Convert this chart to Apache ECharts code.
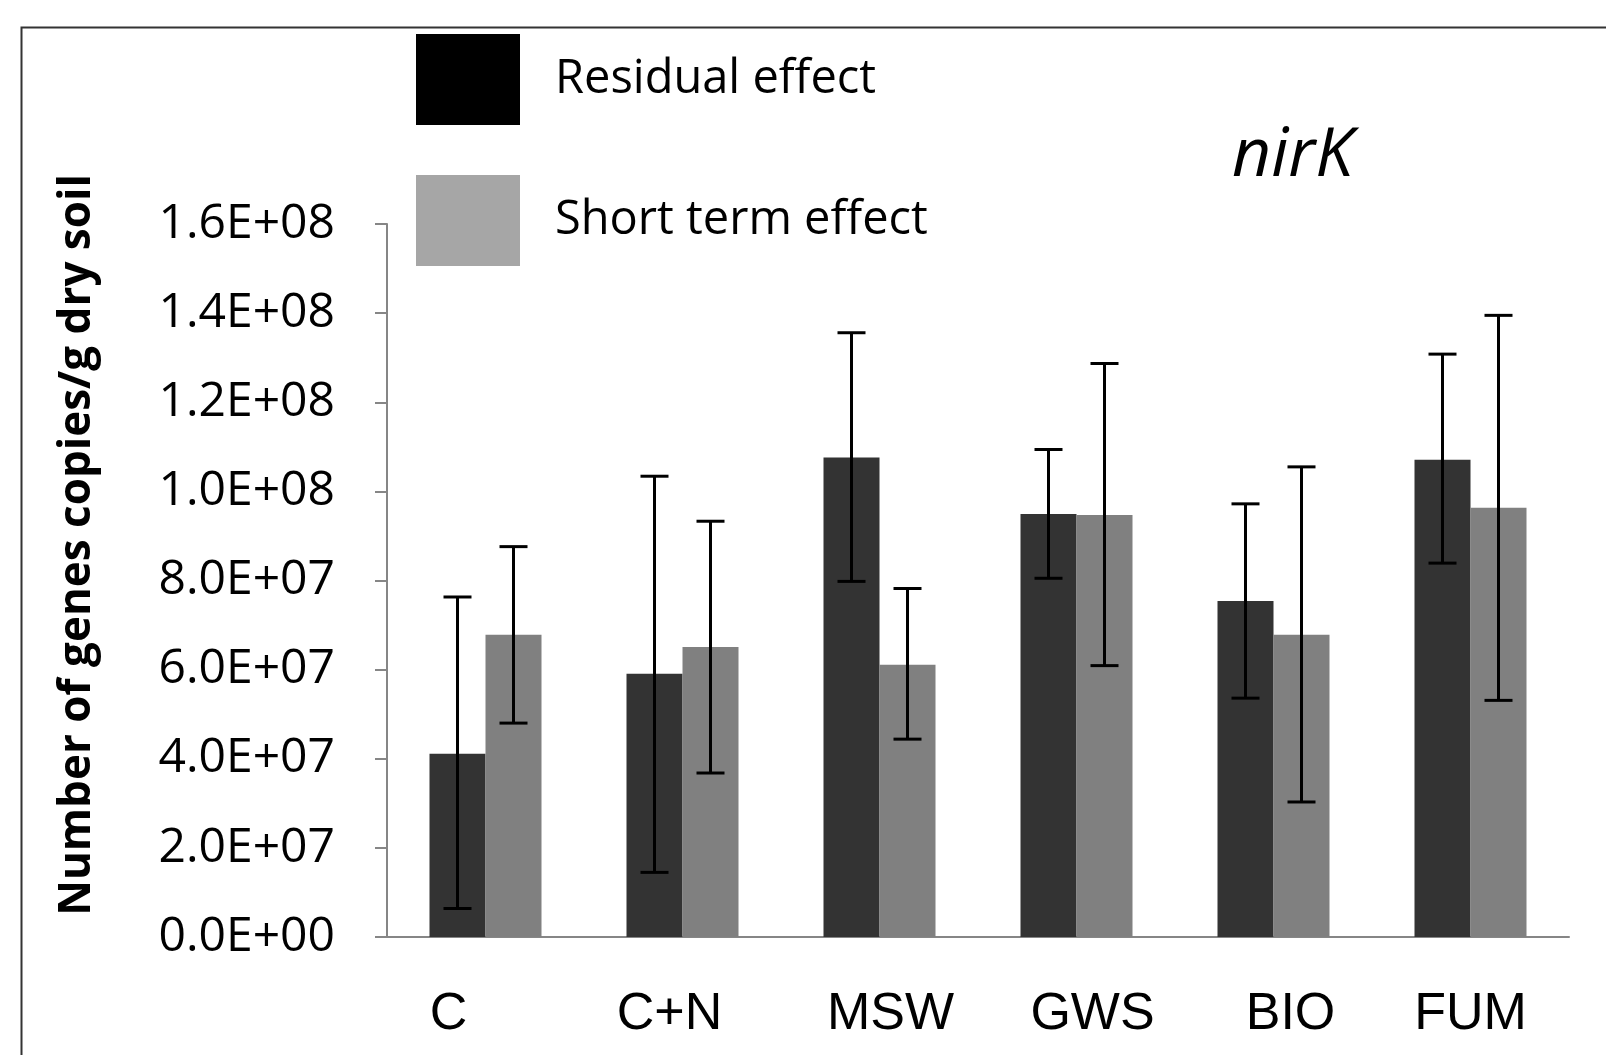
<!DOCTYPE html>
<html>
<head>
<meta charset="utf-8">
<title>nirK</title>
<script src="https://cdn.jsdelivr.net/npm/echarts@6/dist/echarts.min.js"></script>
<style>
  html, body { margin: 0; padding: 0; background: #fff; }
  #chart { width: 1606px; height: 1055px; }
</style>
</head>
<body>
<div id="chart"></div>
<script>
var categories = ['C', 'C+N', 'MSW', 'GWS', 'BIO', 'FUM'];
var residual = [4.11e7, 5.91e7, 10.76e7, 9.49e7, 7.54e7, 10.71e7];
var residualLow = [0.64e7, 1.45e7, 7.98e7, 8.05e7, 5.36e7, 8.39e7];
var residualHigh = [7.63e7, 10.34e7, 13.56e7, 10.94e7, 9.72e7, 13.08e7];
var shortTerm = [6.78e7, 6.51e7, 6.11e7, 9.47e7, 6.78e7, 9.63e7];
var shortLow = [4.80e7, 3.68e7, 4.44e7, 6.09e7, 3.03e7, 5.31e7];
var shortHigh = [8.76e7, 9.33e7, 7.82e7, 12.87e7, 10.55e7, 13.95e7];

var BAR_W = 56;
// labels in the original sit a little off the category centres
var labelShift = { 'C': -37, 'C+N': -13, 'MSW': 11, 'GWS': 16, 'BIO': 17, 'FUM': 0 };

function sciLabel(v) {
  var s = v.toExponential(1).split('e');
  var e = parseInt(s[1], 10);
  var sign = e < 0 ? '-' : '+';
  e = Math.abs(e);
  return s[0] + 'E' + sign + (e < 10 ? '0' + e : e);
}

function errData(lo, hi) {
  return categories.map(function (c, i) { return [i, lo[i], hi[i]]; });
}

function errRender(offset) {
  return function (params, api) {
    var i = api.value(0);
    var top = api.coord([i, api.value(2)]);
    var bot = api.coord([i, api.value(1)]);
    var x = top[0] + offset;
    var cap = 14;
    var st = { stroke: '#000', lineWidth: 3 };
    return {
      type: 'group',
      children: [
        { type: 'line', shape: { x1: x, y1: top[1], x2: x, y2: bot[1] }, style: st },
        { type: 'line', shape: { x1: x - cap, y1: top[1], x2: x + cap, y2: top[1] }, style: st },
        { type: 'line', shape: { x1: x - cap, y1: bot[1], x2: x + cap, y2: bot[1] }, style: st }
      ]
    };
  };
}

var xData = categories.map(function (c) {
  var d = labelShift[c] || 0;
  return { value: c, textStyle: { padding: d < 0 ? [0, -2 * d, 0, 0] : [0, 0, 0, 2 * d] } };
});

var myChart = echarts.init(document.getElementById('chart'));
myChart.setOption({
  animation: false,
  graphic: [
    {
      type: 'rect', left: 19, top: 25,
      shape: { width: 1620, height: 1060 },
      style: { fill: 'none', stroke: '#333', lineWidth: 2 }
    },
    {
      type: 'text', x: 1232, y: 157,
      style: {
        text: 'nirK', fontSize: 68, fontStyle: 'italic', fontFamily: 'Open Sans', fill: '#000',
        textAlign: 'left', textVerticalAlign: 'middle'
      }
    },
    {
      type: 'text', x: 77, y: 545, rotation: Math.PI / 2,
      style: {
        text: 'Number of genes copies/g dry soil', fontSize: 44, fontWeight: 'bold',
        fontFamily: 'Open Sans', fill: '#000', textAlign: 'center', textVerticalAlign: 'middle'
      }
    }
  ],
  legend: {
    orient: 'vertical',
    left: 411, top: 29,
    itemWidth: 104, itemHeight: 91,
    itemGap: 50,
    icon: 'rect',
    textStyle: { fontSize: 47, fontFamily: 'Open Sans', color: '#000', padding: [0, 0, 0, 30] },
    data: [
      { name: 'Residual effect', itemStyle: { color: '#000' } },
      { name: 'Short term effect', itemStyle: { color: '#a6a6a6' } }
    ]
  },
  grid: { left: 387, right: 37, top: 224, bottom: 118 },
  xAxis: {
    type: 'category',
    data: xData,
    axisLine: { lineStyle: { color: '#868686', width: 2 } },
    axisTick: { length: 12, lineStyle: { color: '#868686', width: 2 } },
    axisLabel: { fontSize: 52, fontFamily: 'Liberation Sans', color: '#000', margin: 52 }
  },
  yAxis: {
    type: 'value',
    min: 0, max: 1.6e8, interval: 2e7,
    splitLine: { show: false },
    axisLine: { show: true, lineStyle: { color: '#868686', width: 2 } },
    axisTick: { show: true, length: 12, lineStyle: { color: '#868686', width: 2 } },
    axisLabel: { fontSize: 48, fontFamily: 'Open Sans', color: '#000', margin: 52, formatter: sciLabel }
  },
  series: [
    {
      name: 'Residual effect', type: 'bar', data: residual,
      barWidth: BAR_W, barGap: 0,
      itemStyle: { color: '#333333' }
    },
    {
      name: 'Short term effect', type: 'bar', data: shortTerm,
      barWidth: BAR_W, barGap: 0,
      itemStyle: { color: '#808080' }
    },
    {
      type: 'custom', name: 'resErr', data: errData(residualLow, residualHigh),
      renderItem: errRender(-BAR_W / 2), z: 10,
      encode: { x: 0, y: [1, 2] }
    },
    {
      type: 'custom', name: 'shortErr', data: errData(shortLow, shortHigh),
      renderItem: errRender(BAR_W / 2), z: 10,
      encode: { x: 0, y: [1, 2] }
    }
  ]
});
</script>
</body>
</html>
